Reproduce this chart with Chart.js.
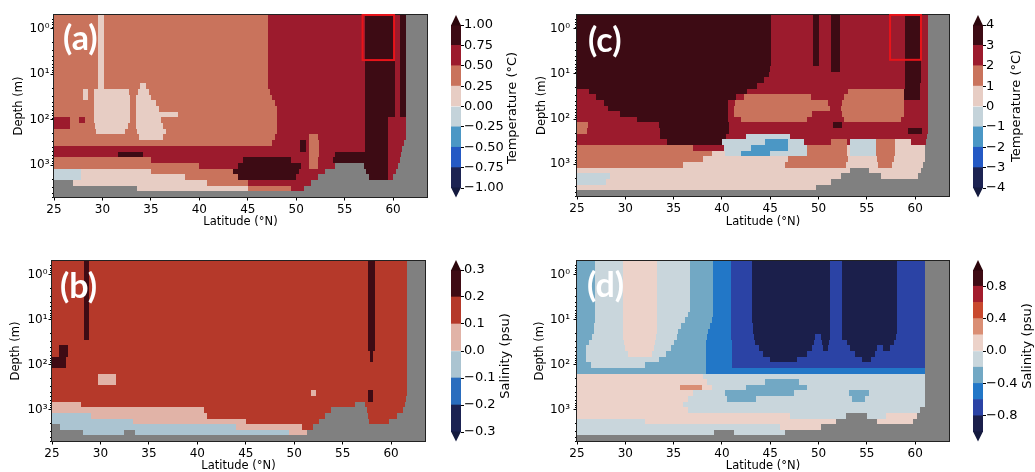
<!DOCTYPE html>
<html>
<head>
<meta charset="utf-8">
<script src="https://cdn.jsdelivr.net/npm/chart.js@4.4.0/dist/chart.umd.min.js"></script>
<style>
  body { margin: 0; background: #fff; width: 1035px; height: 472px; overflow: hidden; position: relative; }
  canvas { position: absolute; }
</style>
</head>
<body>
<canvas id="heatA" width="440" height="232" style="left:0;top:0"></canvas>
<canvas id="barA" width="95" height="232" style="left:440px;top:0"></canvas>
<canvas id="heatC" width="440" height="232" style="left:520px;top:0"></canvas>
<canvas id="barC" width="75" height="232" style="left:960px;top:0"></canvas>
<canvas id="heatB" width="440" height="240" style="left:0;top:240px"></canvas>
<canvas id="barB" width="95" height="232" style="left:440px;top:240px"></canvas>
<canvas id="heatD" width="440" height="240" style="left:520px;top:240px"></canvas>
<canvas id="barD" width="75" height="232" style="left:960px;top:240px"></canvas>
<script>
// axes
const latMin = 25, latMax = 63.5;
const latTicks = [25, 30, 35, 40, 45, 50, 55, 60];
const depthTicks = [1, 10, 100, 1000];
const depthTickLabels = ['10⁰', '10¹', '10²', '10³'];
const depthMinorTicks = [0.6, 0.7, 0.8, 0.9, 2, 3, 4, 5, 6, 7, 8, 9, 20, 30, 40, 50, 60, 70, 80, 90,
  200, 300, 400, 500, 600, 700, 800, 900, 2000, 3000, 4000, 5000];
// model depth levels (row edges, m)
const depthEdges = [0.501, 0.668, 0.891, 1.189, 1.585, 2.113, 2.818, 3.758, 5.012, 6.683, 8.913,
  11.89, 15.85, 21.13, 28.18, 37.58, 50.12, 66.83, 89.13, 118.9, 158.5, 211.3, 281.8, 375.8,
  501.2, 668.3, 891.3, 1189, 1585, 2113, 2818, 3758, 5012];

// colour levels
const tempALevels = [-1, -0.75, -0.5, -0.25, 0, 0.25, 0.5, 0.75, 1];
const tempATickLabels = ['−1.00', '−0.75', '−0.50', '−0.25', '0.00', '0.25', '0.50', '0.75', '1.00'];
const tempCLevels = [-4, -3, -2, -1, 0, 1, 2, 3, 4];
const tempCTickLabels = ['−4', '−3', '−2', '−1', '0', '1', '2', '3', '4'];
const salBLevels = [-0.3, -0.2, -0.1, 0, 0.1, 0.2, 0.3];
const salBTickLabels = ['−0.3', '−0.2', '−0.1', '0.0', '0.1', '0.2', '0.3'];
const salDLevels = [-1, -0.8, -0.6, -0.4, -0.2, 0, 0.2, 0.4, 0.6, 0.8, 1];
const salDTicks = [-0.8, -0.4, 0, 0.4, 0.8];
const salDTickLabels = ['−0.8', '−0.4', '0.0', '0.4', '0.8'];

// fields: one string per depth row (top to bottom), "bin:endLatitude" runs, g = land
const tempA = [
  '5:29.5 4:30.2 5:47.1 6:57.1 7:60.2 6:60.7 7:61.3 g',
  '5:29.5 4:30.2 5:47.1 6:57.1 7:60.2 6:60.7 7:61.3 g',
  '5:29.5 4:30.2 5:47.1 6:57.1 7:60.2 6:60.7 7:61.3 g',
  '5:29.5 4:30.2 5:47.1 6:57.1 7:60.2 6:60.7 7:61.3 g',
  '5:29.5 4:30.2 5:47.1 6:57.1 7:60.2 6:60.7 7:61.3 g',
  '5:29.5 4:30.2 5:47.1 6:57.1 7:60.2 6:60.7 7:61.3 g',
  '5:29.5 4:30.2 5:47.1 6:57.1 7:60.2 6:60.7 7:61.3 g',
  '5:29.5 4:30.2 5:47.1 6:57.1 7:60.2 6:60.7 7:61.3 g',
  '5:29.5 4:30.2 5:47.1 6:57.1 7:60.2 6:60.7 7:61.3 g',
  '5:29.5 4:30.2 5:47.1 6:57.1 7:60.2 6:60.7 7:61.3 g',
  '5:29.5 4:30.2 5:47.1 6:57.1 7:60.2 6:60.7 7:61.3 g',
  '5:29.5 4:30.2 5:47.1 6:57.1 7:60.2 6:60.7 7:61.3 g',
  '5:29.5 4:30.2 5:33.9 4:34.5 5:47.1 6:57.1 7:60.2 6:60.7 7:61.3 g',
  '5:28 4:28.5 5:29.1 4:32.7 5:33.7 4:34.8 5:47.3 6:57.1 7:60.2 6:60.7 7:61.3 g',
  '5:28 4:28.5 5:29.1 4:32.8 5:33.5 4:35 5:47.5 6:57.1 7:60.2 6:60.7 7:61.3 g',
  '5:29.1 4:32.8 5:33.5 4:35.5 5:47.8 6:57.1 7:60.2 6:60.7 7:61.3 g',
  '5:29.1 4:32.8 5:33.5 4:35.8 5:48 6:57.1 7:60.2 6:60.7 7:61.3 g',
  '5:29.1 4:32.8 5:33.5 4:37.8 5:48 6:57.1 7:60.2 6:60.7 7:61.3 g',
  '6:26.6 5:27.6 6:28.2 5:29.1 4:32.8 5:33.5 4:36 5:48 6:57.1 7:59.5 6:61.3 g',
  '6:26.6 5:29.2 4:32.6 5:33.5 4:36.2 5:48 6:57.1 7:59.5 6:61.3 g',
  '5:29.3 4:32.3 5:33.6 4:36.6 5:48 6:57.1 7:59.5 6:61.3 g',
  '5:33.8 4:36.3 5:47.8 6:51.3 5:52.3 6:57.1 7:59.5 6:61.3 g',
  '5:47.5 6:50.4 7:51 6:51.3 5:52.4 6:57.1 7:59.5 6:61.1 g',
  '6:50.4 7:51 6:51.3 5:52.4 6:57.1 7:59.5 6:60.9 g',
  '6:31.6 7:34.2 6:51.3 5:52.4 6:54 7:59.5 6:60.8 g',
  '5:35 6:44.5 7:49.5 6:51.3 5:52.2 6:53.8 7:59.5 6:60.7 g',
  '5:40 6:44 7:50.5 6:51.3 5:52.2 6:54 g:57 7:59.5 6:60.5 g',
  '3:27.8 4:35 5:43.5 7:50.3 6:53 g:57.2 7:59.5 6:60.3 g',
  '3:27.8 4:38.5 5:44 7:50 6:52.3 g:57.5 7:59.5 6:60 g',
  'g:27 4:40.8 5:45 6:51.5 g',
  'g:33.6 4:45 5:49.5 6:50.8 g',
  'g'
];
const tempC = [
  '7:45.1 6:49.4 7:50 6:51.3 7:52.2 6:58.9 7:60.6 6:61.3 g',
  '7:45.1 6:49.4 7:50 6:51.3 7:52.2 6:58.9 7:60.6 6:61.3 g',
  '7:45.1 6:49.4 7:50 6:51.3 7:52.2 6:58.9 7:60.6 6:61.3 g',
  '7:45.1 6:49.4 7:50 6:51.3 7:52.2 6:58.9 7:60.6 6:61.3 g',
  '7:45.1 6:49.4 7:50 6:51.3 7:52.2 6:58.9 7:60.6 6:61.3 g',
  '7:45.1 6:49.4 7:50 6:51.3 7:52.2 6:58.9 7:60.6 6:61.3 g',
  '7:45.1 6:49.4 7:50 6:51.3 7:52.2 6:58.9 7:60.6 6:61.3 g',
  '7:45.1 6:49.4 7:50 6:51.3 7:52.2 6:58.9 7:60.6 6:61.3 g',
  '7:45.1 6:49.4 7:50 6:51.3 7:52.2 6:58.9 7:60.6 6:61.3 g',
  '7:45 6:51.3 7:52.2 6:58.9 7:60.6 6:61.3 g',
  '7:44.9 6:58.9 7:60.6 6:61.3 g',
  '7:44.4 6:58.9 7:60.6 6:61.3 g',
  '7:43.6 6:58.9 7:60.5 6:61.3 g',
  '6:26.2 7:42.6 6:53 5:58.8 7:60.5 6:61.3 g',
  '6:27 7:41.5 6:42.3 5:49.2 6:52.6 5:58.8 7:60.5 6:61.3 g',
  '6:27.8 7:40.6 6:41.4 5:51 6:52.4 5:58.8 6:61.3 g',
  '6:28.2 7:40.6 6:41.3 5:51.2 6:52.3 5:58.8 6:61.3 g',
  '6:29.5 7:40.6 6:41.3 5:49.3 6:52.4 5:58.8 6:61.3 g',
  '6:31.2 7:40.6 6:42 5:48.8 6:52.6 5:58.5 6:61.3 g',
  '5:26.1 6:33.5 7:40.7 6:51.5 7:52.4 6:61.3 g',
  '5:26 6:33.6 7:40.7 6:59.3 7:60.7 6:61.3 g',
  '6:33.6 7:40.4 6:42.5 3:47 6:61.2 g',
  '6:34.3 7:40 3:44.5 2:46.8 3:48.5 6:51.3 5:52.9 6:53.3 3:55.9 5:57.9 4:59.6 6:61.1 g',
  '5:37 6:40.2 3:43 2:46.8 3:48.8 5:52.9 4:53.3 3:55.9 5:57.9 4:61 g',
  '5:39 4:40.3 3:42 2:45 3:48.8 5:52.9 4:53.3 3:55.9 5:57.9 4:61 g',
  '5:38 4:46.8 5:53 4:56 5:57.8 4:61 g',
  '5:36 4:46.5 5:52.8 4:56.2 5:57.6 4:60.8 g',
  '4:53.3 g:55.2 4:60.6 g',
  '3:28.4 4:52.3 g:56.5 4:60.3 g',
  '3:28 4:51.3 g',
  '4:49.7 g',
  'g'
];
const salB = [
  '4:28.3 5:28.8 4:57.6 5:58.3 4:61.6 g',
  '4:28.3 5:28.8 4:57.6 5:58.3 4:61.6 g',
  '4:28.3 5:28.8 4:57.6 5:58.3 4:61.6 g',
  '4:28.3 5:28.8 4:57.6 5:58.3 4:61.6 g',
  '4:28.3 5:28.8 4:57.6 5:58.3 4:61.6 g',
  '4:28.3 5:28.8 4:57.6 5:58.3 4:61.6 g',
  '4:28.3 5:28.8 4:57.6 5:58.3 4:61.6 g',
  '4:28.3 5:28.8 4:57.6 5:58.3 4:61.6 g',
  '4:28.3 5:28.8 4:57.6 5:58.3 4:61.6 g',
  '4:28.3 5:28.8 4:57.6 5:58.3 4:61.6 g',
  '4:28.3 5:28.8 4:57.6 5:58.3 4:61.6 g',
  '4:28.3 5:28.8 4:57.6 5:58.3 4:61.6 g',
  '4:28.3 5:28.8 4:57.6 5:58.3 4:61.6 g',
  '4:28.3 5:28.8 4:57.6 5:58.3 4:61.6 g',
  '4:57.6 5:58.3 4:61.6 g',
  '4:25.7 5:26.6 4:57.6 5:58.3 4:61.6 g',
  '4:25.7 5:26.6 4:57.8 5:58.1 4:61.6 g',
  '5:26.4 4:57.8 5:58.1 4:61.6 g',
  '5:26.4 4:61.6 g',
  '4:61.6 g',
  '4:29.7 3:31.6 4:61.6 g',
  '4:29.7 3:31.6 4:61.6 g',
  '4:61.6 g',
  '4:51.7 3:52.2 4:57.6 5:58.1 4:61.6 g',
  '4:57.6 5:58.1 4:61.5 g',
  '3:28 4:56.3 g:57.3 4:61.4 g',
  '3:40.7 4:53.8 g:57.5 4:61.2 g',
  '2:29 3:41 4:53.2 g:57.6 4:60.6 g',
  '2:33.4 3:45 4:52.6 g:57.7 4:59.8 g',
  'g:25.8 2:44 3:50.8 4:51.9 g',
  'g:28.2 2:32.4 g:33.6 2:49.5 3:51.3 g',
  'g'
];
const salD = [
  '3:26.9 4:29.8 5:33.3 4:36.7 3:39.1 2:40.9 1:43.1 0:51.2 1:52.4 0:58.1 1:61 g',
  '3:26.9 4:29.8 5:33.3 4:36.7 3:39.1 2:40.9 1:43.1 0:51.2 1:52.4 0:58.1 1:61 g',
  '3:26.9 4:29.8 5:33.3 4:36.7 3:39.1 2:40.9 1:43.1 0:51.2 1:52.4 0:58.1 1:61 g',
  '3:26.9 4:29.8 5:33.3 4:36.7 3:39.1 2:40.9 1:43.1 0:51.2 1:52.4 0:58.1 1:61 g',
  '3:26.9 4:29.8 5:33.3 4:36.7 3:39.1 2:40.9 1:43.1 0:51.2 1:52.4 0:58.1 1:61 g',
  '3:26.9 4:29.8 5:33.3 4:36.7 3:39.1 2:40.9 1:43.1 0:51.2 1:52.4 0:58.1 1:61 g',
  '3:26.9 4:29.8 5:33.3 4:36.7 3:39.1 2:40.9 1:43.1 0:51.2 1:52.4 0:58.1 1:61 g',
  '3:26.9 4:29.8 5:33.3 4:36.7 3:39.1 2:40.9 1:43.1 0:51.2 1:52.4 0:58.1 1:61 g',
  '3:26.9 4:29.8 5:33.3 4:36.7 3:39.1 2:40.9 1:43.1 0:51.2 1:52.4 0:58.1 1:61 g',
  '3:26.9 4:29.8 5:33.3 4:36.5 3:39.1 2:40.9 1:43.1 0:51.2 1:52.4 0:58.1 1:61 g',
  '3:26.9 4:29.8 5:33.3 4:36.2 3:39 2:40.9 1:43.1 0:51.2 1:52.4 0:58.1 1:61 g',
  '3:26.8 4:29.8 5:33.3 4:35.8 3:38.8 2:40.9 1:43.2 0:51.2 1:52.4 0:58.1 1:61 g',
  '3:26.8 4:29.8 5:33.3 4:35.5 3:38.6 2:40.9 1:43.2 0:51.2 1:52.4 0:58.1 1:61 g',
  '3:26.6 4:29.8 5:33.2 4:35.3 3:38.5 2:40.9 1:43.3 0:49.6 1:50.3 0:51.2 1:52.4 0:58 1:61 g',
  '3:26.2 4:29.9 5:33.1 4:35 3:38.4 2:41 1:43.4 0:49.5 1:50.4 0:51.1 1:52.9 0:57.8 1:61 g',
  '3:25.9 4:30 5:33 4:34.7 3:38.4 2:41 1:43.8 0:49.3 1:50.5 0:51 1:53.3 0:56 1:56.7 0:57.4 1:61 g',
  '3:25.9 4:30.3 5:32.8 4:34.2 3:38.4 2:41 1:44.2 0:48.8 1:53.8 0:55.8 1:61 g',
  '3:25.9 4:33.5 3:38.4 2:41 1:45 0:47.8 1:54.5 0:55.4 1:61 g',
  '3:26.5 4:32 3:38.4 2:41 1:61 g',
  '3:38.4 2:61 g',
  '5:38 4:61 g',
  '5:38.5 4:44.5 3:48 4:61 g',
  '5:35.7 6:37.9 5:39 4:42.5 3:48.8 4:61 g',
  '5:37 4:40.3 3:47.5 4:53.1 3:55.2 4:61 g',
  '5:36.5 4:40.5 3:43.5 4:53.5 3:54.8 4:61 g',
  '5:36 4:61 g',
  '5:36.5 4:60.5 g',
  '5:47 4:52.8 g:55 4:57 5:60.2 g',
  '4:32 5:51.8 g:56 5:59.8 g',
  '4:46 5:50.3 g',
  '4:39.2 g:41.2 4:46.5 g',
  'g'
];

// styles
const balance8 = ['#1c2352', '#2459c4', '#4b97c5', '#c4d3da', '#e7cdc4', '#c9735c', '#9c1b2d', '#3d0b14'];
const balance6 = ['#1b2252', '#2a6dbe', '#abc4d1', '#e1b3a7', '#b5392a', '#3f0b14'];
const balance10 = ['#1b1f4b', '#2b43a5', '#2277c7', '#72a8c4', '#c9d6dc', '#ecd2c9', '#da8e74', '#c9492e', '#a31d2d', '#3f0b14'];
const landColor = '#808080';
const overColor = '#2c060c', underColor = '#141a3e';
const FONT = 'DejaVu Sans';

Chart.defaults.font.family = FONT;
Chart.defaults.color = '#000';

function colorOf(v, levels, colors) {
  for (let i = 0; i < colors.length; i++) {
    if (v < levels[i + 1]) return colors[i];
  }
  return colors[colors.length - 1];
}

function fieldLayer(rows, levels, colors) {
  return {
    id: 'fieldLayer',
    beforeDatasetsDraw(chart) {
      const { ctx, chartArea: a, scales: { x, y } } = chart;
      ctx.save();
      ctx.beginPath();
      ctx.rect(a.left, a.top, a.width, a.height);
      ctx.clip();
      rows.forEach((row, r) => {
        const y0 = Math.round(y.getPixelForValue(depthEdges[r]));
        const y1 = Math.round(y.getPixelForValue(depthEdges[r + 1]));
        let from = latMin;
        row.split(' ').forEach(tok => {
          const [code, end] = tok.split(':');
          const to = end === undefined ? latMax : parseFloat(end);
          const x0 = Math.round(x.getPixelForValue(from));
          const x1 = Math.round(x.getPixelForValue(to));
          if (code === 'g') {
            ctx.fillStyle = landColor;
          } else {
            const k = +code;
            ctx.fillStyle = colorOf((levels[k] + levels[k + 1]) / 2, levels, colors);
          }
          ctx.fillRect(x0, y0, x1 - x0, y1 - y0);
          from = to;
        });
      });
      ctx.restore();
    }
  };
}

function frameLayer(cfg) {
  return {
    id: 'frameLayer',
    afterDraw(chart) {
      const { ctx, chartArea: a, scales: { x, y } } = chart;
      ctx.save();
      // minor log ticks
      ctx.strokeStyle = '#000';
      ctx.lineWidth = 1;
      depthMinorTicks.forEach(v => {
        const py = Math.round(y.getPixelForValue(v)) + 0.5;
        ctx.beginPath();
        ctx.moveTo(a.left - 2, py);
        ctx.lineTo(a.left, py);
        ctx.stroke();
      });
      // spines
      ctx.strokeStyle = '#222';
      ctx.strokeRect(a.left - 0.5, a.top - 0.5, a.width + 1, a.height + 1);
      // highlight box
      if (cfg.box) {
        const bx0 = x.getPixelForValue(cfg.box[0]), bx1 = x.getPixelForValue(cfg.box[1]);
        const by0 = y.getPixelForValue(cfg.box[2]), by1 = y.getPixelForValue(cfg.box[3]);
        ctx.strokeStyle = '#e8141a';
        ctx.lineWidth = 2;
        ctx.strokeRect(bx0, by0, bx1 - bx0, by1 - by0);
      }
      // panel letter
      ctx.fillStyle = '#fff';
      ctx.font = 'bold 34px Lato';
      ctx.textBaseline = 'alphabetic';
      ctx.fillText(cfg.letter, cfg.lx, cfg.ly);
      ctx.restore();
    }
  };
}

function heatPanel(id, rows, levels, colors, cfg) {
  new Chart(document.getElementById(id), {
    type: 'scatter',
    data: { datasets: [] },
    options: {
      responsive: false,
      animation: false,
      events: [],
      layout: { padding: { left: 0, top: cfg.top, right: cfg.right, bottom: 0 } },
      plugins: { legend: { display: false }, tooltip: { enabled: false } },
      scales: {
        x: {
          type: 'linear',
          min: latMin,
          max: latMax,
          afterBuildTicks: s => { s.ticks = latTicks.map(v => ({ value: v })); },
          afterFit: s => { s.height = cfg.xh; },
          ticks: { autoSkip: false, maxRotation: 0, padding: 2, font: { size: 12 }, callback: v => String(v) },
          grid: { drawOnChartArea: false, drawTicks: true, tickLength: 3.5, color: '#000' },
          border: { display: false },
          title: { display: true, text: 'Latitude (°N)', font: { size: 11.5 }, padding: { top: 0, bottom: cfg.xtp } }
        },
        y: {
          type: 'logarithmic',
          reverse: true,
          min: depthEdges[0],
          max: depthEdges[depthEdges.length - 1],
          afterBuildTicks: s => { s.ticks = depthTicks.map(v => ({ value: v })); },
          afterFit: s => { s.width = cfg.yw; },
          ticks: { autoSkip: false, padding: cfg.ytp, font: { size: 12 }, callback: (v, i) => depthTickLabels[i] },
          grid: { drawOnChartArea: false, drawTicks: true, tickLength: 3.5, color: '#000' },
          border: { display: false },
          title: { display: true, text: 'Depth (m)', font: { size: 11.5 }, padding: { top: cfg.ttp, bottom: 0 } }
        }
      }
    },
    plugins: [fieldLayer(rows, levels, colors), frameLayer(cfg)]
  });
}

function extendLayer(levels, cfg) {
  return {
    id: 'extendLayer',
    afterDraw(chart) {
      const { ctx, chartArea: a, scales: { y } } = chart;
      const top = y.getPixelForValue(levels[levels.length - 1]);
      const bot = y.getPixelForValue(levels[0]);
      const cx = (a.left + a.right) / 2;
      ctx.save();
      ctx.fillStyle = overColor;
      ctx.beginPath();
      ctx.moveTo(a.left, top + 0.5); ctx.lineTo(a.right, top + 0.5); ctx.lineTo(cx, top - 10);
      ctx.closePath(); ctx.fill();
      ctx.fillStyle = underColor;
      ctx.beginPath();
      ctx.moveTo(a.left, bot - 0.5); ctx.lineTo(a.right, bot - 0.5); ctx.lineTo(cx, bot + 9.5);
      ctx.closePath(); ctx.fill();
      ctx.translate(cfg.lx, cfg.ly);
      ctx.rotate(-Math.PI / 2);
      ctx.fillStyle = '#000';
      ctx.font = '13px ' + FONT;
      ctx.textAlign = 'center';
      ctx.textBaseline = 'middle';
      ctx.fillText(cfg.label, 0, 0);
      ctx.restore();
    }
  };
}

function colorbar(id, levels, colors, ticks, tickLabels, cfg) {
  new Chart(document.getElementById(id), {
    type: 'bar',
    data: {
      labels: [''],
      datasets: colors.map((c, i) => ({
        data: [[levels[i], levels[i + 1]]],
        backgroundColor: c,
        borderWidth: 0,
        barPercentage: 1,
        categoryPercentage: 1,
        grouped: false
      }))
    },
    options: {
      responsive: false,
      animation: false,
      events: [],
      layout: { padding: { left: cfg.left, top: cfg.top, right: 0, bottom: cfg.bottom } },
      plugins: { legend: { display: false }, tooltip: { enabled: false } },
      scales: {
        x: { display: false },
        y: {
          position: 'right',
          min: levels[0],
          max: levels[levels.length - 1],
          afterBuildTicks: s => { s.ticks = ticks.map(v => ({ value: v })); },
          afterFit: s => { s.width = cfg.yw; },
          ticks: { autoSkip: false, padding: 0, font: { size: 13 }, callback: (v, i) => tickLabels[i] },
          grid: { drawOnChartArea: false, drawTicks: true, tickLength: 3, color: '#000' },
          border: { display: false }
        }
      }
    },
    plugins: [extendLayer(levels, cfg)]
  });
}

heatPanel('heatA', tempA, tempALevels, balance8,
  { top: 15, right: 13, xh: 35, yw: 54, xtp: 3.1, ytp: 1, ttp: 11.8, letter: '(a)', lx: 63, ly: 50, box: [56.85, 60.1, 0.501, 4.9] });
heatPanel('heatC', tempC, tempCLevels, balance8,
  { top: 15, right: 11, xh: 36, yw: 57, xtp: 3.1, ytp: 3.5, ttp: 14.8, letter: '(c)', lx: 68, ly: 52, box: [57.4, 60.6, 0.501, 4.9] });
heatPanel('heatB', salB, salBLevels, balance6,
  { top: 21, right: 15, xh: 39, yw: 52, xtp: 7.1, ytp: 1, ttp: 9.1, letter: '(b)', lx: 60, ly: 58 });
heatPanel('heatD', salD, salDLevels, balance10,
  { top: 21, right: 11, xh: 39, yw: 57, xtp: 7.1, ytp: 3.5, ttp: 13.1, letter: '(d)', lx: 67, ly: 57 });

colorbar('barA', tempALevels, balance8, tempALevels, tempATickLabels,
  { left: 11, top: 25, bottom: 44, yw: 74, lx: 73, ly: 108, label: 'Temperature (°C)' });
colorbar('barC', tempCLevels, balance8, tempCLevels, tempCTickLabels,
  { left: 13, top: 25, bottom: 44, yw: 52, lx: 57, ly: 106, label: 'Temperature (°C)' });
colorbar('barB', salBLevels, balance6, salBLevels, salBTickLabels,
  { left: 11, top: 30, bottom: 40, yw: 74, lx: 66, ly: 116, label: 'Salinity (psu)' });
colorbar('barD', salDLevels, balance10, salDTicks, salDTickLabels,
  { left: 13, top: 30, bottom: 40, yw: 52, lx: 68, ly: 106, label: 'Salinity (psu)' });
</script>
</body>
</html>
